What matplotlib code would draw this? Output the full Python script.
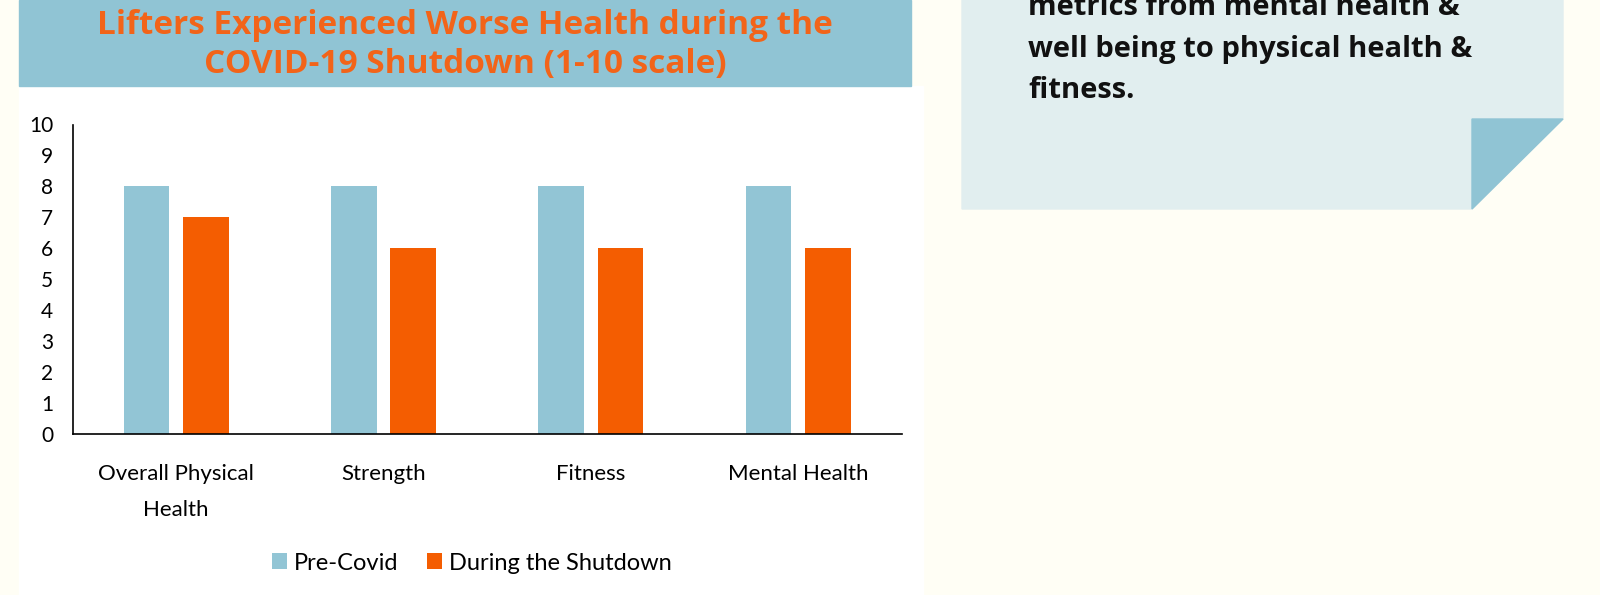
import matplotlib.pyplot as plt
import numpy as np
from matplotlib.patches import Rectangle, Polygon

categories = ["Overall Physical\nHealth", "Strength", "Fitness", "Mental Health"]
pre_covid = [8, 8, 8, 8]
shutdown = [7, 6, 6, 6]
series_names = ["Pre-Covid", "During the Shutdown"]

title = "Lifters Experienced Worse Health during the\nCOVID-19 Shutdown (1-10 scale)"
note = "metrics from mental health &\nwell being to physical health &\nfitness."

cream = "#FFFEF5"
blue = "#92C5D5"
orange = "#F45D01"
title_orange = "#F26419"
note_bg = "#E1EEEF"

W, H = 1600, 595
fig = plt.figure(figsize=(16, 5.95), dpi=100, facecolor=cream)

# page decoration drawn in pixel coordinates
bg = fig.add_axes([0, 0, 1, 1], zorder=0)
bg.set_xlim(0, W)
bg.set_ylim(H, 0)
bg.axis("off")
bg.add_patch(Rectangle((19, 86), 904, 520, color="white"))
bg.add_patch(Rectangle((19, 0), 892, 86, color="#90C4D4"))
bg.add_patch(Polygon([(962, 0), (1563, 0), (1563, 119), (1472, 209), (962, 209)],
                     closed=True, color=note_bg))
bg.add_patch(Polygon([(1472, 119), (1563, 119), (1472, 209)], closed=True, color="#90C4D4"))

bg.text(465, 45, title, ha="center", va="center", fontsize=24, fontweight="bold",
        color=title_orange, family="Open Sans", linespacing=1.27)
bg.text(1028, 49, note, ha="left", va="center", fontsize=21, fontweight="bold",
        color="#111111", family="Open Sans", linespacing=1.58)

# chart
ax = fig.add_axes([72.5 / W, 1 - 433.7 / H, (902 - 72.5) / W, (433.7 - 124.5) / H], zorder=1)
ax.patch.set_alpha(0)
x = np.arange(len(categories))
bw = 0.22
ax.bar(x - 0.143, pre_covid, bw, color=blue, label=series_names[0])
ax.bar(x + 0.143, shutdown, bw, color=orange, label=series_names[1])
ax.set_xlim(-0.5, len(categories) - 0.5)
ax.set_ylim(0, 10)
ax.set_yticks(range(0, 11))
ax.set_xticks(x)
ax.set_xticklabels(categories, linespacing=1.96)
for s in ["top", "right"]:
    ax.spines[s].set_visible(False)
ax.spines["left"].set_linewidth(1.2)
ax.spines["bottom"].set_linewidth(1.2)
ax.tick_params(axis="y", length=0, pad=14, labelsize=15)
ax.tick_params(axis="x", length=0, pad=22, labelsize=16)
for lab in ax.get_xticklabels() + ax.get_yticklabels():
    lab.set_family("Lato")

fig.legend(loc="center", bbox_to_anchor=(472 / W, 1 - 563 / H), ncol=2, frameon=False,
           handlelength=0.65, handleheight=0.65, columnspacing=1.2, handletextpad=0.3,
           prop={"family": "Lato", "size": 17})

fig.savefig("out.png", dpi=100, facecolor=cream)
